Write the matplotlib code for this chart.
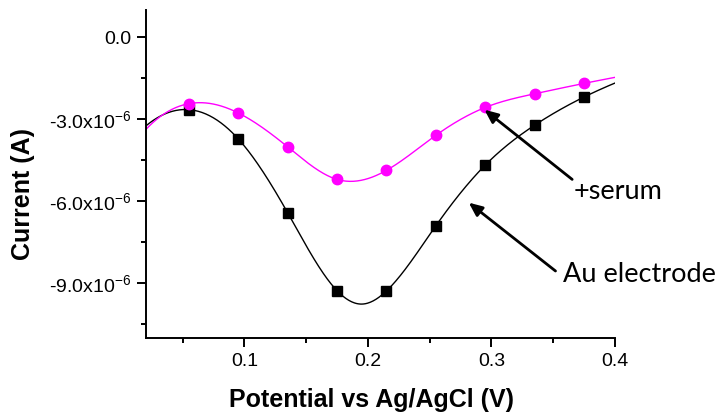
import numpy as np
import matplotlib
matplotlib.use("Agg")
import matplotlib.pyplot as plt
from matplotlib.ticker import MultipleLocator, FuncFormatter

# Marker positions: sampled potentials (V vs Ag/AgCl) and currents (A)
potential = [0.055, 0.095, 0.135, 0.175, 0.215, 0.255, 0.295, 0.335, 0.375]
current_au = [-2.65e-6, -3.72e-6, -6.42e-6, -9.27e-6, -9.28e-6,
              -6.90e-6, -4.68e-6, -3.22e-6, -2.19e-6]
current_serum = [-2.43e-6, -2.77e-6, -4.01e-6, -5.20e-6, -4.87e-6,
                 -3.59e-6, -2.57e-6, -2.07e-6, -1.69e-6]

# Extra readings of the continuous traces (window edges and the Au minimum)
trace_edge_x = [0.02, 0.40]
trace_au_edge = [-3.25e-6, -1.68e-6]
trace_serum_edge = [-3.38e-6, -1.47e-6]
au_min_x = 0.195
au_min_current = -9.76e-6

x_range = (0.02, 0.40)
y_range = (-11e-6, 1e-6)


def spline_curve(x, y, xs):
    """Not-a-knot cubic spline through (x, y), evaluated at xs."""
    order = np.argsort(x)
    x = np.asarray(x, float)[order]
    y = np.asarray(y, float)[order]
    n = len(x)
    h = np.diff(x)
    A = np.zeros((n, n))
    b = np.zeros(n)
    A[0, 0], A[0, 1], A[0, 2] = 1 / h[0], -(1 / h[0] + 1 / h[1]), 1 / h[1]
    A[-1, -3], A[-1, -2], A[-1, -1] = 1 / h[-2], -(1 / h[-2] + 1 / h[-1]), 1 / h[-1]
    for i in range(1, n - 1):
        A[i, i - 1] = h[i - 1] / 6
        A[i, i] = (h[i - 1] + h[i]) / 3
        A[i, i + 1] = h[i] / 6
        b[i] = (y[i + 1] - y[i]) / h[i] - (y[i] - y[i - 1]) / h[i - 1]
    M = np.linalg.solve(A, b)
    idx = np.clip(np.searchsorted(x, xs) - 1, 0, n - 2)
    x0, x1 = x[idx], x[idx + 1]
    hh = x1 - x0
    return (M[idx] * (x1 - xs) ** 3 / (6 * hh)
            + M[idx + 1] * (xs - x0) ** 3 / (6 * hh)
            + (y[idx] / hh - M[idx] * hh / 6) * (x1 - xs)
            + (y[idx + 1] / hh - M[idx + 1] * hh / 6) * (xs - x0))


plt.rcParams["font.family"] = ["Liberation Sans", "DejaVu Sans"]
plt.rcParams["mathtext.fontset"] = "custom"
plt.rcParams["mathtext.rm"] = "Liberation Sans"
plt.rcParams["mathtext.it"] = "Liberation Sans"

fig = plt.figure(figsize=(7.15, 4.18), dpi=100)
ax = fig.add_axes([0.2038, 0.1914, 0.656, 0.785])

xs = np.linspace(x_range[0], x_range[1], 500)
au_x = [trace_edge_x[0]] + potential + [au_min_x, trace_edge_x[1]]
au_y = [trace_au_edge[0]] + current_au + [au_min_current, trace_au_edge[1]]
serum_x = [trace_edge_x[0]] + potential + [trace_edge_x[1]]
serum_y = [trace_serum_edge[0]] + current_serum + [trace_serum_edge[1]]

ax.plot(xs, spline_curve(au_x, au_y, xs), color="black", lw=1.0, zorder=2)
ax.plot(xs, spline_curve(serum_x, serum_y, xs), color="#FF00FF", lw=1.0, zorder=2)
ax.plot(potential, current_au, "s", color="black", ms=6.5, zorder=3)
ax.plot(potential, current_serum, "o", color="#FF00FF", ms=7.5, zorder=3)

ax.set_xlim(*x_range)
ax.set_ylim(*y_range)

for side in ("top", "right"):
    ax.spines[side].set_visible(False)
for side in ("left", "bottom"):
    ax.spines[side].set_linewidth(1.4)

ax.xaxis.set_major_locator(MultipleLocator(0.1))
ax.xaxis.set_minor_locator(MultipleLocator(0.05))
ax.yaxis.set_major_locator(MultipleLocator(3e-6))
ax.yaxis.set_minor_locator(MultipleLocator(1.5e-6))


def fmt_y(v, pos):
    if abs(v) < 1e-12:
        return "0.0"
    return "%.1fx10$^{-6}$" % (v / 1e-6)


ax.yaxis.set_major_formatter(FuncFormatter(fmt_y))
ax.xaxis.set_major_formatter(FuncFormatter(lambda v, p: "%.1f" % v))

ax.tick_params(which="major", direction="out", length=6.5, width=1.4, labelsize=14, pad=4)
ax.tick_params(which="minor", direction="out", length=3.8, width=1.4)

ax.set_xlabel("Potential vs Ag/AgCl (V)", fontsize=18, fontweight="bold")
ax.xaxis.set_label_coords(0.481, -0.152)
ax.set_ylabel("Current (A)", fontsize=18, fontweight="bold", va="center")
ax.yaxis.set_label_coords(-0.2615, 0.439)

arrow_style = dict(arrowstyle="-|>,head_length=0.8,head_width=0.35",
                   color="black", lw=2, shrinkA=0, shrinkB=0)
ax.annotate("", xy=(0.2944, -2.65e-6), xytext=(0.3655, -5.2e-6), arrowprops=arrow_style)
ax.annotate("", xy=(0.2817, -6.05e-6), xytext=(0.352, -8.55e-6), arrowprops=arrow_style)

label_font = dict(fontsize=19.5, family=["Lato", "DejaVu Sans"], va="baseline", ha="left")
ax.text(0.3666, -5.906e-6, "+serum", **label_font)
ax.text(0.3582, -8.968e-6, "Au electrode", **label_font)

fig.savefig("out.png", dpi=100)
